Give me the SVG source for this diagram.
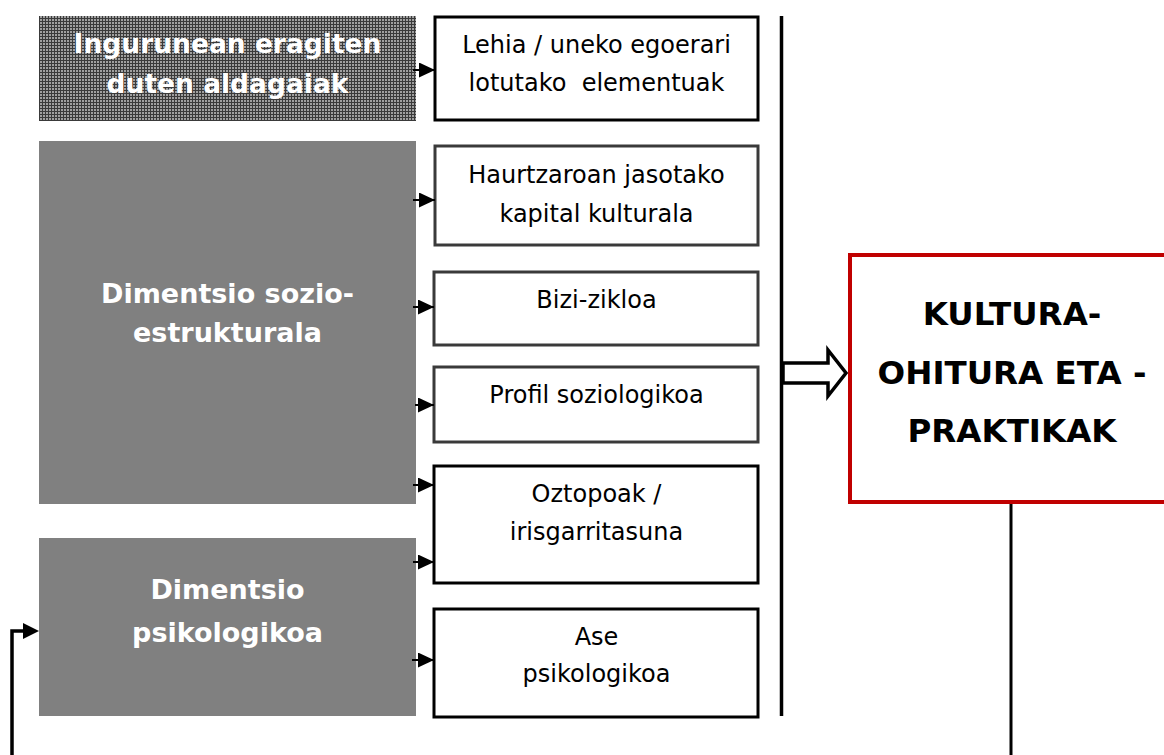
<svg xmlns="http://www.w3.org/2000/svg" width="1164" height="755" viewBox="0 0 1164 755">
  <defs>
    <pattern id="grid" width="3" height="3" patternUnits="userSpaceOnUse">
      <rect width="3" height="3" fill="#a0a0a0"/>
      <rect x="0" y="0" width="3" height="1" fill="#3a3a3a"/>
      <rect x="0" y="0" width="1" height="3" fill="#3a3a3a"/>
    </pattern>
    <marker id="ah" markerUnits="userSpaceOnUse" markerWidth="18" markerHeight="16" refX="16" refY="7.5" orient="auto">
      <path d="M0,0 L16,7.5 L0,15 z" fill="#000"/>
    </marker>
  </defs>
  <style>
    .dim { fill: #808080; }
    .wlab { font-family: "DejaVu Sans", Verdana, sans-serif; font-weight: bold; fill: #fff; text-anchor: middle; }
    .box { fill: #fff; stroke: #000; stroke-width: 3; }
    .box2 { fill: #fff; stroke: #3a3a3a; stroke-width: 3; }
    .lab { font-family: "DejaVu Sans", Verdana, sans-serif; font-size: 24px; fill: #000; text-anchor: middle; }
    .big { font-family: "DejaVu Sans", Verdana, sans-serif; font-weight: bold; font-size: 32.5px; fill: #000; text-anchor: middle; }
    .conn { fill: none; stroke: #000; stroke-width: 2; }
    .thick { fill: none; stroke: #000; stroke-width: 3.5; }
    .fb { fill: none; stroke: #000; stroke-width: 3; }
  </style>

  <g id="ingurunea">
    <rect x="39" y="16" width="377" height="105" fill="url(#grid)"/>
    <text class="wlab" font-size="26.5" x="227.5" y="53">Ingurunean eragiten</text>
    <text class="wlab" font-size="26.5" x="227.5" y="93">duten aldagaiak</text>
  </g>

  <g id="sozio">
    <rect class="dim" x="39" y="141" width="377" height="363"/>
    <text class="wlab" font-size="27" x="227.5" y="303">Dimentsio sozio-</text>
    <text class="wlab" font-size="27" x="227.5" y="342">estrukturala</text>
  </g>

  <g id="psiko">
    <rect class="dim" x="39" y="538" width="377" height="178"/>
    <text class="wlab" font-size="27" x="227.5" y="599">Dimentsio</text>
    <text class="wlab" font-size="27" x="227.5" y="642">psikologikoa</text>
  </g>

  <g id="lehia">
    <rect class="box" x="435" y="17" width="323" height="103"/>
    <text class="lab" x="596.5" y="53">Lehia / uneko egoerari</text>
    <text class="lab" x="596.5" y="91" xml:space="preserve">lotutako  elementuak</text>
  </g>

  <g id="haurtzaroan">
    <rect class="box2" x="435" y="146" width="323" height="99"/>
    <text class="lab" x="596.5" y="183">Haurtzaroan jasotako</text>
    <text class="lab" x="596.5" y="222">kapital kulturala</text>
  </g>

  <g id="bizi">
    <rect class="box2" x="434" y="272" width="324" height="73"/>
    <text class="lab" x="596.5" y="308">Bizi-zikloa</text>
  </g>

  <g id="profil">
    <rect class="box2" x="434" y="367" width="324" height="75"/>
    <text class="lab" x="596.5" y="403">Profil soziologikoa</text>
  </g>

  <g id="oztopoak">
    <rect class="box" x="434" y="466" width="324" height="117"/>
    <text class="lab" x="596.5" y="502">Oztopoak /</text>
    <text class="lab" x="596.5" y="540">irisgarritasuna</text>
  </g>

  <g id="ase">
    <rect class="box" x="434" y="609" width="324" height="108"/>
    <text class="lab" x="596.5" y="645">Ase</text>
    <text class="lab" x="596.5" y="682">psikologikoa</text>
  </g>

  <g id="kultura">
    <rect x="850" y="255" width="340" height="247" fill="#fff" stroke="#c00000" stroke-width="4"/>
    <text class="big" x="1012" y="325">KULTURA-</text>
    <text class="big" x="1012" y="384">OHITURA ETA -</text>
    <text class="big" x="1012" y="442">PRAKTIKAK</text>
  </g>

  <g id="connectors">
    <path class="conn" d="M413,70 H435" marker-end="url(#ah)"/>
    <path class="conn" d="M413,200 H435" marker-end="url(#ah)"/>
    <path class="conn" d="M413,307 H434" marker-end="url(#ah)"/>
    <path class="conn" d="M415,405 H434" marker-end="url(#ah)"/>
    <path class="conn" d="M413,485 H434" marker-end="url(#ah)"/>
    <path class="conn" d="M413,562 H434" marker-end="url(#ah)"/>
    <path class="conn" d="M412,660 H434" marker-end="url(#ah)"/>
    <path class="thick" d="M781.5,16 V716"/>
    <path d="M783,363 H828 V350 L846,373 L828,396 V383 H783 Z" fill="#fff" stroke="#000" stroke-width="3.5"/>
    <path class="fb" d="M1011,504 V755"/>
    <path class="thick" d="M12,755 V631 H25"/>
    <path d="M23,623 L39,631 L23,639 Z" fill="#000"/>
  </g>
</svg>
